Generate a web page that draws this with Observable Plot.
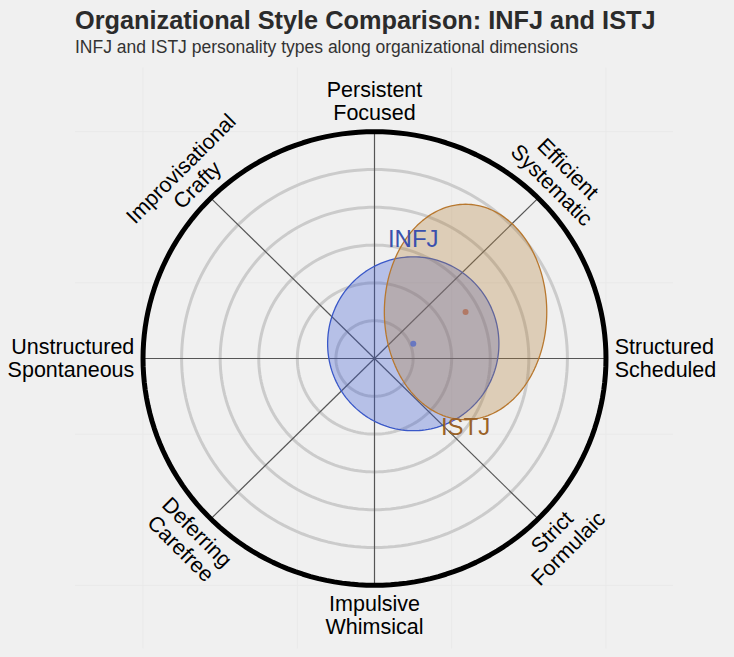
<!DOCTYPE html>
<html>
<head>
<meta charset="utf-8">
<script src="https://cdn.jsdelivr.net/npm/d3@7"></script>
<script src="https://cdn.jsdelivr.net/npm/@observablehq/plot@0.6"></script>
<style>
  html, body { margin: 0; padding: 0; background: #f0f0f0; }
  #wrap { width: 734px; height: 657px; position: relative; overflow: hidden; background: #f0f0f0; }
  #head { position: relative; height: 60px; font-family: "Liberation Sans", Arial, Helvetica, sans-serif; }
  #title { position: absolute; left: 75px; top: 6px; font-size: 25.3px; font-weight: bold; color: #2b2b2b; white-space: nowrap; }
  #subtitle { position: absolute; left: 75px; top: 37px; font-size: 17.5px; color: #333; white-space: nowrap; }
  svg { display: block; }
</style>
</head>
<body>
<div id="wrap">
  <div id="head">
    <div id="title">Organizational Style Comparison: INFJ and ISTJ</div>
    <div id="subtitle">INFJ and ISTJ personality types along organizational dimensions</div>
  </div>
  <div id="chart"></div>
</div>
<script>
// ---- data ----
const axisLabels = [
  "Structured\nScheduled",
  "Efficient\nSystematic",
  "Persistent\nFocused",
  "Improvisational\nCrafty",
  "Unstructured\nSpontaneous",
  "Deferring\nCarefree",
  "Impulsive\nWhimsical",
  "Strict\nFormulaic"
];
const axisAngles = [0, 45, 90, 135, 180, 225, 270, 315];
const ringRadii = [0.2, 0.4, 0.6, 0.8, 1.0];
const outerRadius = 1.2;
const panelGrid = [-1.2, -0.4, 0.4, 1.2];

const types = ["INFJ", "ISTJ"];
const centerX = [0.201, 0.472];
const centerY = [0.078, 0.246];
const spreadX = [0.444, 0.421];
const spreadY = [0.460, 0.570];
const labelSide = [1, -1]; // above / below
const fillColors = ["#3c5ad2", "#b4823f"];
const strokeColors = ["#3a58c8", "#b8782f"];
const textColors = ["#3a50ad", "#9a6228"];
const dotColors = ["#5a6fc4", "#b07058"];

// ---- geometry helpers ----
const rad = d => d * Math.PI / 180;
function ring(r, key, rx = r, ry = r, cx = 0, cy = 0) {
  return d3.range(0, 360, 2).map(a => ({key, x: cx + rx * Math.cos(rad(a)), y: cy + ry * Math.sin(rad(a))}));
}

const ringPts = ringRadii.flatMap((r, i) => ring(r, i));
const outerPts = ring(outerRadius, "outer");
const spokes = axisAngles.map(a => ({x1: 0, y1: 0, x2: outerRadius * Math.cos(rad(a)), y2: outerRadius * Math.sin(rad(a))}));

const labelData = axisLabels.map((t, i) => {
  const a = axisAngles[i];
  const c = Math.cos(rad(a)), s = Math.sin(rad(a));
  const horiz = Math.abs(s) < 1e-6;
  const r = horiz ? 1.245 : 1.36;
  let rotate = 0;
  if (a === 45 || a === 225) rotate = 45;
  if (a === 135 || a === 315) rotate = -45;
  const anchor = horiz ? (c > 0 ? "start" : "end") : "middle";
  return {text: t, x: r * c, y: r * s, rotate, anchor};
});

const typeData = types.map((t, i) => ({
  type: t, cx: centerX[i], cy: centerY[i], rx: spreadX[i], ry: spreadY[i], side: labelSide[i], i
}));

const marks = [
  Plot.ruleX(panelGrid, {x: d => d, y1: -1.537, y2: 1.537, stroke: "#e9e9e9", strokeWidth: 1}),
  Plot.ruleY(panelGrid, {y: d => d, x1: -1.55, x2: 1.55, stroke: "#e9e9e9", strokeWidth: 1}),
  Plot.line(ringPts, {x: "x", y: "y", z: "key", curve: "linear-closed", stroke: "#cbcbcb", strokeWidth: 3}),
  Plot.link(spokes, {x1: "x1", y1: "y1", x2: "x2", y2: "y2", stroke: "#555", strokeWidth: 1.2}),
  Plot.line(outerPts, {x: "x", y: "y", curve: "linear-closed", stroke: "#000", strokeWidth: 5})
];

typeData.forEach(d => {
  marks.push(Plot.line(ring(1, d.type, d.rx, d.ry, d.cx, d.cy), {
    x: "x", y: "y", curve: "linear-closed",
    fill: fillColors[d.i], fillOpacity: 0.32,
    stroke: strokeColors[d.i], strokeWidth: 1.3
  }));
});
typeData.forEach(d => {
  marks.push(Plot.dot([d], {x: "cx", y: "cy", r: 3, fill: dotColors[d.i], fillOpacity: 0.85, stroke: "none"}));
  marks.push(Plot.text([d], {
    x: "cx", y: e => e.cy + e.side * e.ry, text: "type",
    dy: d.side > 0 ? -17 : 8,
    fill: textColors[d.i], fontSize: 24, textAnchor: "middle", lineAnchor: "middle"
  }));
});

["middle", "start", "end"].forEach(anc => {
  marks.push(Plot.text(labelData.filter(d => d.anchor === anc), {
    x: "x", y: "y", text: "text", rotate: "rotate",
    textAnchor: anc, lineAnchor: "middle", lineHeight: 1.07,
    fontSize: 21.5, fill: "#000"
  }));
});

const chart = Plot.plot({
  width: 734,
  height: 597,
  marginLeft: 75,
  marginRight: 61,
  marginTop: 5,
  marginBottom: 6,
  x: {domain: [-1.55, 1.55], axis: null},
  y: {domain: [-1.55, 1.55], axis: null},
  style: {background: "transparent", fontFamily: "'Liberation Sans', Arial, Helvetica, sans-serif", overflow: "visible"},
  marks
});
document.getElementById("chart").appendChild(chart);
</script>
</body>
</html>
